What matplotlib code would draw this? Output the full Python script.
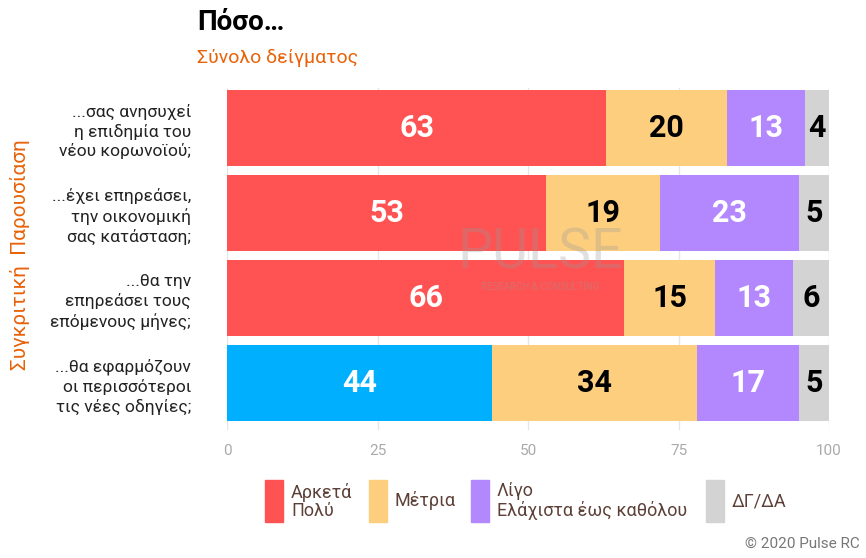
import matplotlib
matplotlib.use("Agg")
import matplotlib.pyplot as plt
from matplotlib.patches import Rectangle

plt.rcParams['font.family'] = ['Roboto', 'DejaVu Sans']

questions = [
    "...σας ανησυχεί\nη επιδημία του\nνέου κορωνοϊού;",
    "...έχει επηρεάσει,\nτην οικονομική\nσας κατάσταση;",
    "...θα την\nεπηρεάσει τους\nεπόμενους μήνες;",
    "...θα εφαρμόζουν\nοι περισσότεροι\nτις νέες οδηγίες;",
]
categories = ["Αρκετά\nΠολύ", "Μέτρια", "Λίγο\nΕλάχιστα έως καθόλου", "ΔΓ/ΔΑ"]
polu = [63, 53, 66, 44]
metria = [20, 19, 15, 34]
ligo = [13, 23, 13, 17]
dgda = [4, 5, 6, 5]
series = [polu, metria, ligo, dgda]

RED, ORANGE, PURPLE, GREY, BLUE = "#FF5252", "#FECE7F", "#B388FF", "#D3D3D3", "#00B0FF"
colors = [RED, ORANGE, PURPLE, GREY]
text_col = ["white", "black", "white", "black"]
first_colors = [RED, RED, RED, BLUE]

fig = plt.figure(figsize=(8.66, 5.58), dpi=100)
ax = fig.add_axes([227 / 866, 1 - 430 / 558, 602 / 866, 342 / 558])

ypos = list(range(len(questions)))
left = [0] * len(questions)
for k, vals in enumerate(series):
    cols = first_colors if k == 0 else [colors[k]] * len(vals)
    bars = ax.barh(ypos, vals, left=left, height=0.89, color=cols, zorder=2)
    for b, v in zip(bars, vals):
        ax.text(b.get_x() + b.get_width() / 2, b.get_y() + b.get_height() / 2, str(v),
                ha="center", va="center", fontsize=22, fontweight="bold",
                color=text_col[k], zorder=4)
    left = [l + v for l, v in zip(left, vals)]

ax.set_xlim(0, 100)
ax.set_ylim(3.55, -0.47)
ax.set_xticks([0, 25, 50, 75, 100])
ax.set_xticklabels(["0", "25", "50", "75", "100"], color="#aaaaaa", fontsize=11)
ax.set_yticks(ypos)
ax.set_yticklabels(questions, fontsize=12.5, color="#222222", linespacing=1.3)
ax.tick_params(axis="both", length=0, pad=10)
ax.tick_params(axis="y", pad=26)
ax.grid(axis="x", color="#e6e6e6", lw=1, zorder=0)
for s in ax.spines.values():
    s.set_visible(False)

# watermark
ax.text(52, 1.47, "PULSE", ha="center", va="center", fontsize=40, color="#999999",
        alpha=0.3, zorder=3)
ax.text(52, 1.87, "RESEARCH & CONSULTING", ha="center", va="center", fontsize=7,
        color="#999999", alpha=0.4, zorder=3)

fig.text(197 / 866, 1 - 22 / 558, "Πόσο…", fontsize=20, fontweight="bold", va="center")
fig.text(197 / 866, 1 - 58 / 558, "Σύνολο δείγματος", fontsize=14, color="#E8630A", va="center")
fig.text(20 / 866, 1 - 255 / 558, "Συγκριτική  Παρουσίαση", fontsize=15, color="#E8630A",
         rotation=90, ha="center", va="center")

# legend
leg_x = [265, 369, 471, 706]
for x, c, lab in zip(leg_x, colors, categories):
    fig.patches.append(Rectangle((x / 866, 1 - 522 / 558), 18 / 866, 42 / 558,
                                 transform=fig.transFigure, color=c))
    fig.text((x + 26) / 866, 1 - 501 / 558, lab, fontsize=13, color="#5D4037",
             va="center", linespacing=1.0)

fig.text(860 / 866, 1 - 544 / 558, "© 2020 Pulse RC", fontsize=11, color="#777777",
         ha="right", va="center")

fig.savefig("out.png", dpi=100)
